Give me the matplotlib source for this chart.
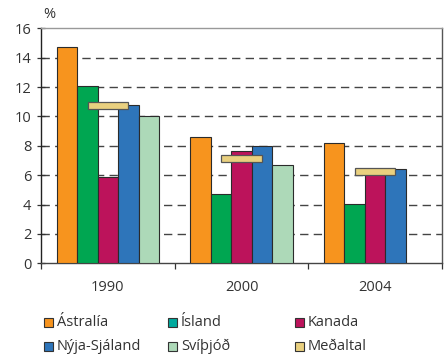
import matplotlib
matplotlib.use("Agg")
import matplotlib.pyplot as plt
from matplotlib.patches import Rectangle
import numpy as np

plt.rcParams['font.family'] = ['Open Sans', 'DejaVu Sans']

years = ['1990', '2000', '2004']
countries = ['Ástralía', 'Ísland', 'Kanada', 'Nýja-Sjáland', 'Svíþjóð']
values = {
    'Ástralía':     [14.7, 8.6, 8.2],
    'Ísland':       [12.1, 4.75, 4.05],
    'Kanada':       [5.9, 7.65, 6.3],
    'Nýja-Sjáland': [10.8, 8.0, 6.4],
    'Svíþjóð':      [10.0, 6.7, np.nan],
}
average = [10.72, 7.14, 6.26]
avg_label = 'Meðaltal'
yticks = [0, 2, 4, 6, 8, 10, 12, 14, 16]

bar_colors = ['#F7941E', '#00A651', '#BC135B', '#2E75BA', '#ADD9B8']
legend_colors = ['#F7941E', '#00A99D', '#BC135B', '#2E75BA', '#ADD9B8']
avg_color = '#E9D07F'
text_color = '#333333'

fig = plt.figure(figsize=(4.47, 3.56), dpi=100)
ax = fig.add_axes([41/447, 1-263.3/356, (442-41)/447, (263.3-28.3)/356])

x = np.arange(len(years))
w = 0.153
for i, c in enumerate(countries):
    vals = np.array(values[c], dtype=float)
    mask = ~np.isnan(vals)
    ax.bar(x[mask] + (i-2)*w, vals[mask], width=w, color=bar_colors[i],
           edgecolor='#2b2b2b', linewidth=0.8, zorder=3)

mh = 0.48
ax.bar(x, [mh]*len(x), bottom=np.array(average)-mh/2, width=0.3, color=avg_color,
       edgecolor='#555555', linewidth=0.9, zorder=4)

ax.set_xlim(-0.5, 2.5)
ax.set_ylim(0, 16)
ax.set_yticks(yticks)
ax.set_yticklabels([str(t) for t in yticks])
for t in yticks[1:-1]:
    ax.axhline(t, color='#444444', lw=1.0, dashes=(6, 3.8), zorder=1)

ax.set_xticks(x)
ax.set_xticklabels(years)
ax.set_xticks([-0.5, 0.5, 1.5, 2.5], minor=True)
ax.tick_params(axis='x', which='major', length=0, pad=12, labelsize=10.5, labelcolor=text_color)
ax.tick_params(axis='x', which='minor', length=4, width=0.9, direction='out', color='#333333')
ax.tick_params(axis='y', which='major', direction='inout', length=6, width=0.9, pad=4,
               labelsize=10.5, labelcolor=text_color, color='#333333')

ax.spines['left'].set_color('#222222')
ax.spines['bottom'].set_color('#444444')
ax.spines['top'].set_color('#999999')
ax.spines['right'].set_color('#555555')
for s in ax.spines.values():
    s.set_linewidth(1.0)

fig.text(49.5/447, 1-15/356, '%', ha='center', va='center', fontsize=10.5, color=text_color)

# legend
labels = countries + [avg_label]
lcolors = legend_colors + [avg_color]
cols_x = [44, 168, 295]
rows_y = [322.5, 346.5]
sq = 9
for k, (lab, col) in enumerate(zip(labels, lcolors)):
    r, cidx = divmod(k, 3)
    x0 = cols_x[cidx]
    yc = rows_y[r]
    fig.patches.append(Rectangle((x0/447, 1-(yc+sq/2)/356), sq/447, sq/356,
                                 transform=fig.transFigure, facecolor=col,
                                 edgecolor='#333333', linewidth=0.8))
    fig.text((x0+sq+4)/447, 1-yc/356, lab, ha='left', va='center',
             fontsize=10.5, color=text_color)

fig.savefig('out.png', dpi=100)
